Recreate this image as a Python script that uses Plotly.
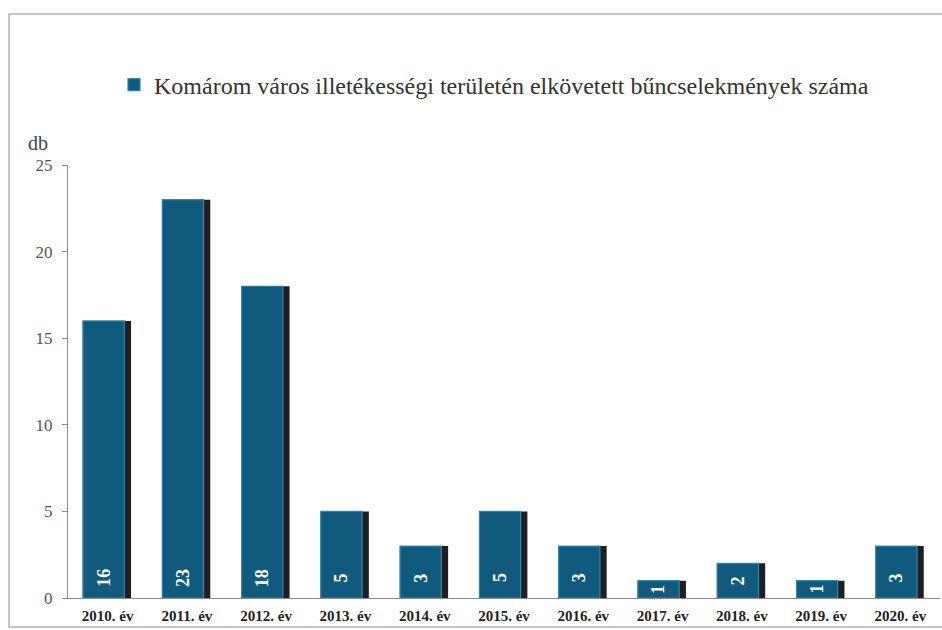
import plotly.graph_objects as go

# Yearly counts of offences
years = ["2010. év", "2011. év", "2012. év", "2013. év", "2014. év", "2015. év",
         "2016. év", "2017. év", "2018. év", "2019. év", "2020. év"]
counts = [16, 23, 18, 5, 3, 5, 3, 1, 2, 1, 3]
series_name = "Komárom város illetékességi területén elkövetett bűncselekmények száma"
y_ticks = [0, 5, 10, 15, 20, 25]

W, H = 942, 630
L, R, T, B = 68, 2, 165, 32
pw, ph = W - L - R, H - T - B

serif = "Liberation Serif, Times New Roman, serif"

fig = go.Figure()

# dark backing bar gives the shaded right edge
fig.add_trace(go.Bar(
    x=years, y=counts, width=0.61, offset=-0.315,
    marker=dict(color="#1e1f22", line=dict(width=0)),
    showlegend=False, hoverinfo="skip",
))
# main teal face of each bar
fig.add_trace(go.Bar(
    x=years, y=counts, width=0.52, offset=-0.31, name=series_name,
    marker=dict(color="#0f5a7d", line=dict(color="#3386ab", width=1.2)),
))

# value labels, rotated, sitting at the foot of each bar
for yr, v in zip(years, counts):
    fig.add_annotation(
        x=yr, y=min(v / 2, 1.15), xref="x", yref="y",
        xanchor="center", yanchor="middle",
        text=f"<b>{v}</b>", textangle=-90, showarrow=False,
        xshift=-4, font=dict(family=serif, size=18, color="white"),
    )

# unit label above the value axis
fig.add_annotation(
    xref="paper", yref="paper", x=(38 - L) / pw, y=(H - B - 143) / ph,
    xanchor="center", yanchor="middle",
    text="db", showarrow=False, font=dict(family=serif, size=20, color="#444"),
)

# thin frame around the chart (open on the right, past the page edge)
fig.add_shape(
    type="rect", xref="paper", yref="paper",
    x0=(9 - L) / pw, x1=(970 - L) / pw,
    y0=(H - B - 627) / ph, y1=(H - B - 14) / ph,
    line=dict(color="#b4b4b4", width=1.5),
)

fig.update_layout(
    width=W, height=H,
    margin=dict(l=L, r=R, t=T, b=B),
    paper_bgcolor="white", plot_bgcolor="white",
    barmode="overlay", bargap=0.4,
    showlegend=True,
    legend=dict(
        orientation="h", x=0.5 - 10 / pw, xanchor="center",
        y=(H - B - 85) / ph, yanchor="middle",
        font=dict(family=serif, size=24, color="#333"),
        itemwidth=30,
    ),
    xaxis=dict(
        showline=True, linecolor="#8a8a8a", linewidth=1.2,
        ticks="", tickfont=dict(family=serif, size=15, color="#222"),
        tickprefix="<b>", ticksuffix="</b>", ticklabelstandoff=4,
        showgrid=False,
    ),
    yaxis=dict(
        range=[0, 25], tickvals=y_ticks, showgrid=False, zeroline=False,
        showline=True, linecolor="#8a8a8a", linewidth=1.2,
        ticks="outside", ticklen=5, tickcolor="#8a8a8a", ticklabelstandoff=6,
        tickfont=dict(family=serif, size=17, color="#555"),
    ),
)

fig.write_html("out.html")
